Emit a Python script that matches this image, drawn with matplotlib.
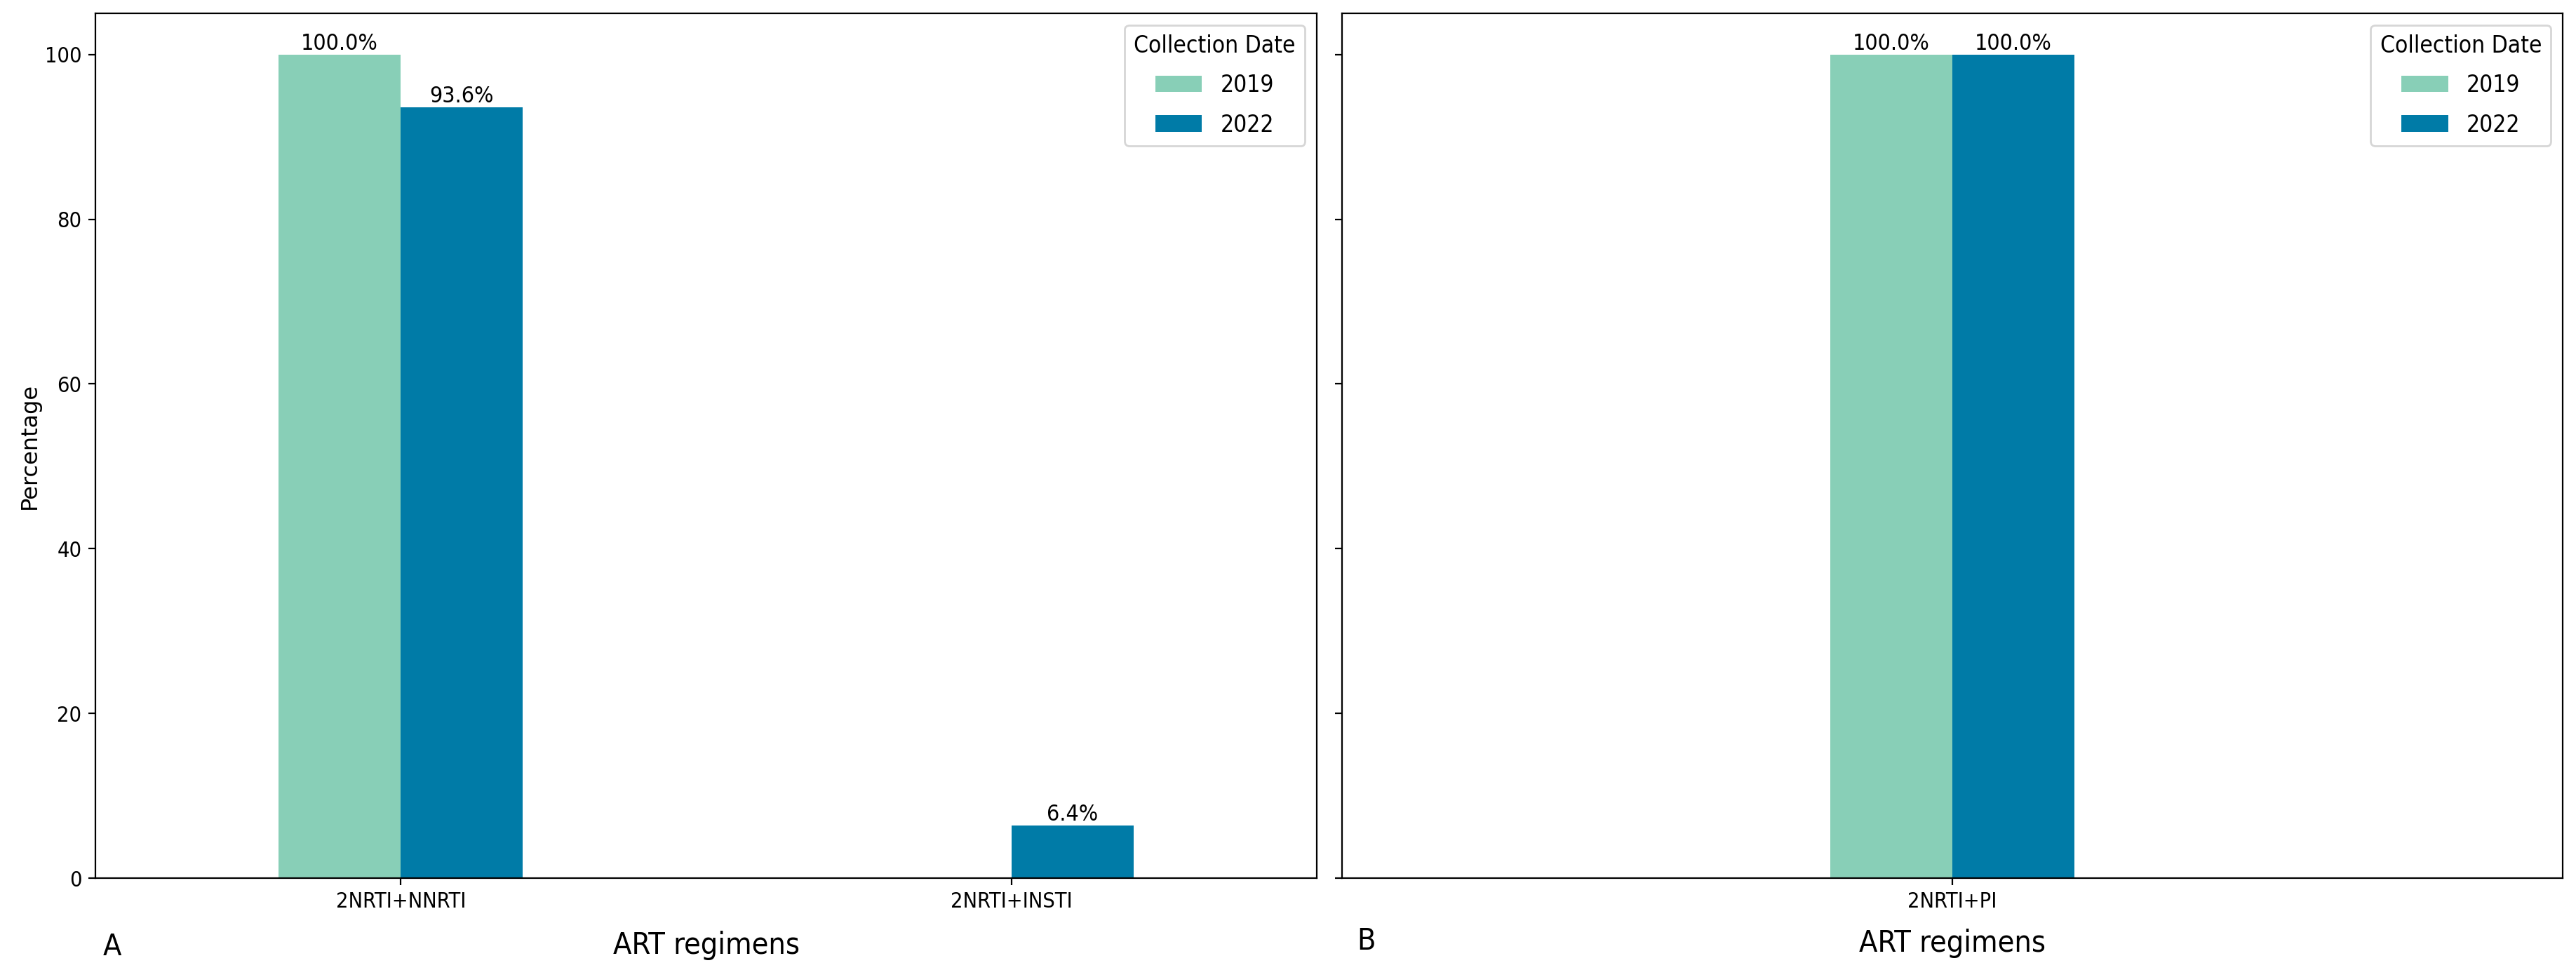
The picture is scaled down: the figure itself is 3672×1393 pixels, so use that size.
import matplotlib
matplotlib.use("Agg")
import matplotlib.pyplot as plt
import numpy as np
from matplotlib import font_manager as fm

# the reference text is squeezed sideways, so look for a condensed face
fam, stretch = "DejaVu Sans", "normal"
for f in fm.fontManager.ttflist:
    st = str(f.stretch).lower()
    if f.name == "DejaVu Sans" and ("condensed" in st or "Condensed" in f.fname):
        fam, stretch = "DejaVu Sans", f.stretch
        break
else:
    for f in fm.fontManager.ttflist:
        if "Narrow" in f.name or "Condensed" in f.name:
            fam, stretch = f.name, f.stretch
            break
plt.rcParams["font.family"] = [fam, "DejaVu Sans"]
plt.rcParams["font.stretch"] = stretch

# data
regimens_a = ["2NRTI+NNRTI", "2NRTI+INSTI"]
pct_2019_a = [100.0, 0.0]
pct_2022_a = [93.6, 6.4]

regimens_b = ["2NRTI+PI"]
pct_2019_b = [100.0]
pct_2022_b = [100.0]

years = ["2019", "2022"]
colors = ["#88cfb7", "#007ba7"]

W, H = 3672, 1393
fig = plt.figure(figsize=(W / 200, H / 200), dpi=200)

def frac(x0, x1, y_top, y_bot):
    return [x0 / W, 1 - y_bot / H, (x1 - x0) / W, (y_bot - y_top) / H]

ax1 = fig.add_axes(frac(136, 1877, 19, 1252))
ax2 = fig.add_axes(frac(1913, 3653, 19, 1252), sharey=ax1)

def draw_panel(ax, cats, v2019, v2022, xlim, letter, lx, ly, xpad):
    w = 0.2
    x = np.arange(len(cats))
    for off, vals, yr, c in [(-w / 2, v2019, years[0], colors[0]),
                             (w / 2, v2022, years[1], colors[1])]:
        bars = ax.bar(x + off, vals, width=w, color=c, label=yr)
        labels = [f"{v:.1f}%" if v > 0 else "" for v in vals]
        ax.bar_label(bars, labels=labels, padding=0, fontsize=11.5)
    ax.set_xticks(x)
    ax.set_xticklabels(cats, fontsize=11)
    ax.set_xlim(*xlim)
    ax.set_xlabel("ART regimens", fontsize=15.5, labelpad=xpad)
    ax.tick_params(axis="y", labelsize=11)
    ax.legend(title="Collection Date", loc="upper right",
              fontsize=12, title_fontsize=12, labelspacing=0.7)
    ax.text(lx, ly, letter, transform=ax.transAxes, fontsize=15.5,
            ha="left", va="baseline")

draw_panel(ax1, regimens_a, pct_2019_a, pct_2022_a, (-0.5, 1.5), "A", 0.006, -0.089, 9.5)
draw_panel(ax2, regimens_b, pct_2019_b, pct_2022_b, (-1, 1), "B", 0.012, -0.083, 8.5)

ax1.set_ylim(0, 105)
ax1.set_ylabel("Percentage", fontsize=11.5, family="DejaVu Sans",
               stretch="normal", labelpad=2)
ax2.tick_params(axis="y", labelleft=False)

fig.savefig("out.png", dpi=200, facecolor="white")
